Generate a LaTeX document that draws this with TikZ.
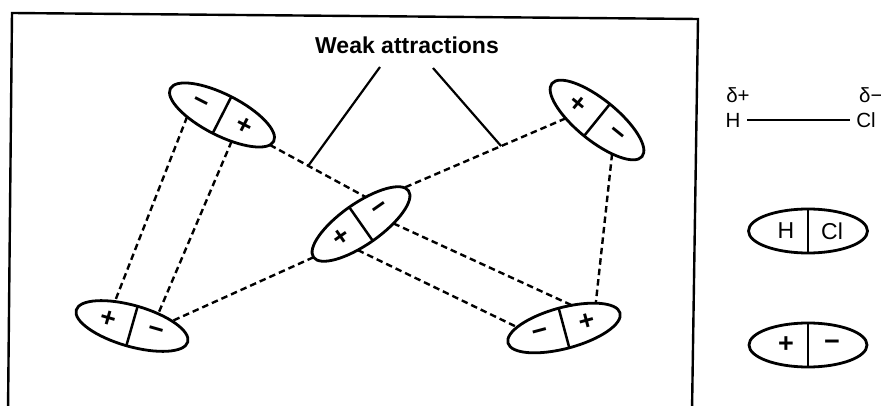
\documentclass[tikz,border=0pt]{standalone}
\usepackage{fontspec}
\setmainfont{Liberation Sans}
\usetikzlibrary{shapes.geometric,calc}
\newcommand\mydipole[6]{%
  \node[dip, rotate=#4] (#1) at (#2,#3) {};
  \draw[divl] (#1.north) -- (#1.south);
  \node[sgn, rotate=#4] (#1l) at ($(#1.center)!0.42!(#1.west)$) {#5};
  \node[sgn, rotate=#4] (#1r) at ($(#1.center)!0.42!(#1.east)$) {#6};
}
\begin{document}
\begin{tikzpicture}[x=1pt,y=-1pt,
  dip/.style={draw, ellipse, line width=2.8pt, minimum width=116pt, minimum height=41pt, inner sep=0pt, outer sep=0pt},
  divl/.style={line width=2.5pt},
  sgn/.style={font=\fontsize{27}{27}\selectfont\bfseries, inner sep=0pt},
  dline/.style={line width=2.4pt, dash pattern=on 6.5pt off 4pt},
  solidl/.style={line width=2.2pt},
  lbl/.style={font=\fontsize{23}{23}\selectfont, inner sep=0pt},
  small/.style={font=\fontsize{20.5}{20.5}\selectfont, inner sep=0pt}]
\useasboundingbox (0,0) rectangle (881,406);
% frame
\draw[line width=2.4pt] (8,412) -- (12,13) -- (698,19) -- (692,412);
% title
\node[font=\fontsize{23}{23}\selectfont\bfseries, inner sep=0pt] (W) at (407,45) {Weak attractions};
% dipoles
\mydipole{A}{222}{115}{-27}{−}{+}
\mydipole{B}{597}{120}{-39}{+}{−}
\mydipole{C}{361}{224}{35}{+}{−}
\mydipole{D}{132}{326}{-16}{+}{−}
\mydipole{E}{564}{328}{15}{−}{+}
% dashed attractions
\draw[dline] (A.210) -- (D.141);
\draw[dline] (A.317) -- (D.41);
\draw[dline] (A.355) -- (C.45);
\draw[dline] (B.216) -- (C.5);
\draw[dline] (B.333) -- (E.23);
\draw[dline] (C.180) -- (D.23);
\draw[dline] (C.326) -- (E.56);
\draw[dline] (C.228) -- (E.164);
% pointer lines
\coordinate (wl) at (380,67);
\coordinate (wr) at (433,68);
\coordinate (pl) at ($(A.355)!0.40!(C.45)$);
\coordinate (pr) at ($(B.216)!0.40!(C.5)$);
\draw[solidl] (wl) -- (pl);
\draw[solidl] (wr) -- (pr);
% right side: H-Cl
\node[small] (dp) at (738,95) {δ+};
\node[small, anchor=west] (dm) at (859,95) {δ−};
\node[small, inner xsep=6.5pt] (H1) at (733,120) {H};
\node[small, inner xsep=6pt] (Cl1) at (866,120) {Cl};
\draw[line width=2pt] (H1.east) -- (Cl1.west);
% HCl ellipse
\node[dip, minimum width=119pt, minimum height=44pt] (HCl) at (808,231) {};
\draw[divl] (HCl.north) -- (HCl.south);
\node[lbl] (Hx) at (786,231) {H};
\node[lbl] (Clx) at (832,231) {Cl};
% +- ellipse
\node[dip, minimum width=118pt, minimum height=44pt] (PM) at (808,345) {};
\draw[divl] (PM.north) -- (PM.south);
\node[sgn] (Px) at (786,345) {+};
\node[sgn] (Mx) at (832,345) {−};
\end{tikzpicture}
\end{document}
